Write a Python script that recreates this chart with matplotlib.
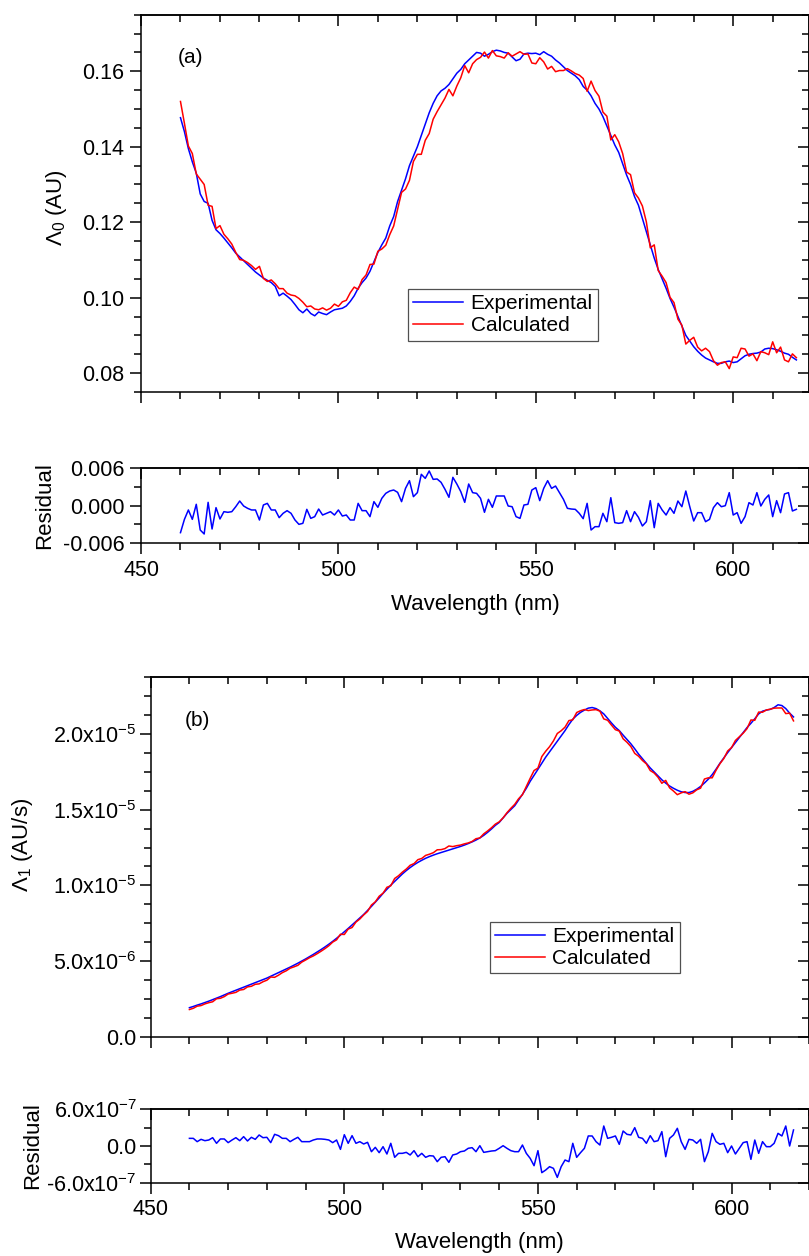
import numpy as np
import matplotlib
matplotlib.use("Agg")
import matplotlib.pyplot as plt
from matplotlib.ticker import MultipleLocator, FixedLocator, NullFormatter, FuncFormatter

plt.rcParams['font.family'] = ['Liberation Sans', 'DejaVu Sans']
plt.rcParams['mathtext.fontset'] = 'custom'
plt.rcParams['mathtext.rm'] = 'Liberation Sans'
plt.rcParams['mathtext.it'] = 'Liberation Sans:italic'
plt.rcParams['axes.unicode_minus'] = False

# wavelength grid, 1 nm steps
wl = np.arange(460, 617)

# (a) zeroth-order spectrum, AU
lam0_exp = [
    0.1477, 0.1440, 0.1395, 0.1360, 0.1330, 0.1275, 0.1255, 0.1250, 0.1205, 0.1180,
    0.1170, 0.1158, 0.1145, 0.1132, 0.1118, 0.1108, 0.1098, 0.1088, 0.1078, 0.1068,
    0.1060, 0.1052, 0.1046, 0.1040, 0.1030, 0.1005, 0.1012, 0.1004, 0.0995, 0.0982,
    0.0968, 0.0960, 0.0970, 0.0958, 0.0952, 0.0962, 0.0958, 0.0955, 0.0962, 0.0968,
    0.0970, 0.0972, 0.0978, 0.0990, 0.1005, 0.1025, 0.1040, 0.1052, 0.1070, 0.1095,
    0.1120, 0.1140, 0.1158, 0.1190, 0.1215, 0.1255, 0.1285, 0.1315, 0.1350, 0.1375,
    0.1400, 0.1430, 0.1460, 0.1490, 0.1515, 0.1535, 0.1548, 0.1555, 0.1565, 0.1580,
    0.1595, 0.1605, 0.1620, 0.1630, 0.1640, 0.1650, 0.1648, 0.1640, 0.1645, 0.1652,
    0.1656, 0.1654, 0.1650, 0.1648, 0.1638, 0.1628, 0.1632, 0.1646, 0.1648, 0.1647,
    0.1648, 0.1644, 0.1652, 0.1645, 0.1640, 0.1630, 0.1622, 0.1612, 0.1602, 0.1595,
    0.1588, 0.1578, 0.1560, 0.1550, 0.1535, 0.1515, 0.1500, 0.1480, 0.1455, 0.1430,
    0.1405, 0.1385, 0.1355, 0.1325, 0.1300, 0.1268, 0.1245, 0.1210, 0.1175, 0.1140,
    0.1105, 0.1075, 0.1050, 0.1025, 0.0998, 0.0975, 0.0950, 0.0925, 0.0900, 0.0885,
    0.0870, 0.0858, 0.0848, 0.0840, 0.0835, 0.0830, 0.0826, 0.0826, 0.0830, 0.0832,
    0.0828, 0.0830, 0.0838, 0.0846, 0.0850, 0.0852, 0.0853, 0.0856, 0.0864, 0.0866,
    0.0865, 0.0862, 0.0858, 0.0853, 0.0850, 0.0842, 0.0835,
]
lam0_calc = [
    0.1520, 0.1462, 0.1402, 0.1382, 0.1328, 0.1314, 0.1300, 0.1245, 0.1242, 0.1183,
    0.1191, 0.1168, 0.1156, 0.1142, 0.1120, 0.1101, 0.1099, 0.1093, 0.1085, 0.1075,
    0.1083, 0.1051, 0.1043, 0.1047, 0.1037, 0.1024, 0.1024, 0.1012, 0.1007, 0.1005,
    0.0998, 0.0988, 0.0976, 0.0978, 0.0970, 0.0968, 0.0973, 0.0967, 0.0972, 0.0983,
    0.0977, 0.0989, 0.0993, 0.1013, 0.1028, 0.1022, 0.1048, 0.1060, 0.1088, 0.1089,
    0.1123, 0.1129, 0.1139, 0.1167, 0.1190, 0.1234, 0.1279, 0.1288, 0.1311, 0.1361,
    0.1380, 0.1380, 0.1417, 0.1435, 0.1473, 0.1493, 0.1511, 0.1529, 0.1552, 0.1535,
    0.1561, 0.1583, 0.1615, 0.1596, 0.1620, 0.1631, 0.1637, 0.1651, 0.1635, 0.1655,
    0.1641, 0.1639, 0.1635, 0.1649, 0.1640, 0.1646, 0.1652, 0.1645, 0.1646, 0.1622,
    0.1620, 0.1636, 0.1625, 0.1606, 0.1613, 0.1599, 0.1602, 0.1602, 0.1607, 0.1601,
    0.1594, 0.1590, 0.1581, 0.1547, 0.1574, 0.1549, 0.1534, 0.1492, 0.1481, 0.1418,
    0.1432, 0.1413, 0.1382, 0.1333, 0.1326, 0.1278, 0.1264, 0.1243, 0.1201, 0.1132,
    0.1140, 0.1072, 0.1057, 0.1040, 0.1001, 0.0987, 0.0943, 0.0927, 0.0877, 0.0887,
    0.0895, 0.0869, 0.0859, 0.0866, 0.0857, 0.0833, 0.0821, 0.0828, 0.0830, 0.0812,
    0.0843, 0.0841, 0.0866, 0.0864, 0.0845, 0.0851, 0.0833, 0.0857, 0.0854, 0.0849,
    0.0883, 0.0854, 0.0869, 0.0835, 0.0830, 0.0851, 0.0841,
]
resid0 = [
    -0.00431, -0.00220, -0.00071, -0.00220, 0.00019, -0.00389, -0.00452, 0.00050, -0.00373, -0.00034,
    -0.00214, -0.00098, -0.00108, -0.00098, -0.00019, 0.00071, -0.00008, -0.00045, -0.00071, -0.00071,
    -0.00230, 0.00008, 0.00034, -0.00071, -0.00071, -0.00193, -0.00124, -0.00082, -0.00124, -0.00230,
    -0.00299, -0.00283, -0.00061, -0.00204, -0.00177, -0.00056, -0.00151, -0.00124, -0.00098, -0.00151,
    -0.00071, -0.00167, -0.00151, -0.00230, -0.00230, 0.00034, -0.00082, -0.00082, -0.00177, 0.00061,
    -0.00029, 0.00114, 0.00193, 0.00230, 0.00246, 0.00209, 0.00061, 0.00272, 0.00394, 0.00140,
    0.00204, 0.00495, 0.00431, 0.00548, 0.00415, 0.00421, 0.00368, 0.00257, 0.00130, 0.00447,
    0.00341, 0.00220, 0.00050, 0.00341, 0.00204, 0.00193, 0.00114, -0.00108, 0.00098, -0.00029,
    0.00151, 0.00151, 0.00151, -0.00008, -0.00019, -0.00177, -0.00204, 0.00008, 0.00019, 0.00246,
    0.00283, 0.00077, 0.00272, 0.00394, 0.00272, 0.00309, 0.00204, 0.00098, -0.00045, -0.00056,
    -0.00061, -0.00124, -0.00209, 0.00034, -0.00389, -0.00336, -0.00336, -0.00124, -0.00257, 0.00124,
    -0.00272, -0.00283, -0.00272, -0.00082, -0.00257, -0.00098, -0.00188, -0.00325, -0.00257, 0.00077,
    -0.00352, 0.00034, -0.00071, -0.00151, -0.00034, -0.00124, 0.00071, -0.00019, 0.00230, -0.00019,
    -0.00246, -0.00114, -0.00114, -0.00257, -0.00220, -0.00034, 0.00045, -0.00019, -0.00003, 0.00204,
    -0.00151, -0.00114, -0.00283, -0.00177, 0.00045, 0.00008, 0.00204, -0.00008, 0.00098, 0.00167,
    -0.00177, 0.00077, -0.00114, 0.00183, 0.00204, -0.00087, -0.00061,
]

# (b) first-order spectrum, in units of 1e-6 AU/s
lam1_exp = [
    1.95, 2.03, 2.12, 2.20, 2.29, 2.38, 2.48, 2.58, 2.68, 2.79,
    2.90, 3.00, 3.10, 3.20, 3.30, 3.40, 3.50, 3.60, 3.70, 3.80,
    3.90, 4.02, 4.14, 4.26, 4.38, 4.50, 4.62, 4.75, 4.88, 5.02,
    5.16, 5.31, 5.46, 5.62, 5.78, 5.95, 6.13, 6.32, 6.52, 6.73,
    6.95, 7.17, 7.40, 7.63, 7.86, 8.09, 8.35, 8.62, 8.90, 9.18,
    9.48, 9.75, 10.02, 10.27, 10.52, 10.76, 10.98, 11.18, 11.36, 11.52,
    11.66, 11.79, 11.90, 12.00, 12.09, 12.17, 12.25, 12.33, 12.41, 12.49,
    12.57, 12.66, 12.76, 12.87, 12.99, 13.13, 13.30, 13.50, 13.72, 13.96,
    14.15, 14.45, 14.75, 15.00, 15.25, 15.62, 16.00, 16.40, 16.86, 17.25,
    17.65, 18.05, 18.45, 18.80, 19.15, 19.50, 19.85, 20.20, 20.60, 20.95,
    21.20, 21.40, 21.55, 21.68, 21.72, 21.65, 21.50, 21.30, 21.00, 20.70,
    20.42, 20.20, 19.90, 19.62, 19.33, 19.00, 18.65, 18.35, 18.05, 17.74,
    17.48, 17.22, 16.96, 16.74, 16.55, 16.40, 16.27, 16.17, 16.12, 16.12,
    16.20, 16.34, 16.52, 16.75, 17.00, 17.30, 17.66, 18.05, 18.40, 18.75,
    19.08, 19.42, 19.75, 20.08, 20.40, 20.68, 20.98, 21.30, 21.48, 21.55,
    21.60, 21.72, 21.90, 21.85, 21.65, 21.35, 21.10,
]
lam1_calc = [
    1.83, 1.91, 2.05, 2.09, 2.20, 2.28, 2.34, 2.54, 2.57, 2.68,
    2.85, 2.90, 2.96, 3.11, 3.15, 3.32, 3.36, 3.49, 3.52, 3.66,
    3.76, 3.97, 3.95, 4.09, 4.26, 4.38, 4.55, 4.64, 4.74, 4.95,
    5.09, 5.24, 5.36, 5.51, 5.67, 5.84, 6.03, 6.27, 6.42, 6.79,
    6.77, 7.13, 7.23, 7.59, 7.79, 8.06, 8.29, 8.71, 8.92, 9.29,
    9.49, 9.88, 9.98, 10.46, 10.64, 10.88, 11.08, 11.33, 11.44, 11.70,
    11.78, 11.98, 12.06, 12.16, 12.35, 12.36, 12.43, 12.60, 12.56, 12.62,
    12.66, 12.74, 12.80, 12.90, 13.08, 13.13, 13.40, 13.59, 13.80, 14.04,
    14.19, 14.45, 14.79, 15.08, 15.34, 15.71, 15.98, 16.52, 17.06, 17.57,
    17.73, 18.49, 18.84, 19.14, 19.52, 20.01, 20.19, 20.43, 20.86, 20.91,
    21.39, 21.51, 21.59, 21.52, 21.56, 21.58, 21.48, 20.97, 20.88, 20.56,
    20.26, 20.17, 19.66, 19.43, 19.15, 18.70, 18.51, 18.23, 18.01, 17.57,
    17.41, 17.13, 16.73, 16.92, 16.43, 16.22, 15.98, 16.10, 16.18, 16.01,
    16.10, 16.30, 16.41, 17.01, 17.09, 17.09, 17.59, 18.02, 18.36, 18.86,
    19.08, 19.55, 19.79, 20.03, 20.33, 20.90, 20.88, 21.42, 21.41, 21.56,
    21.61, 21.68, 21.69, 21.69, 21.32, 21.35, 20.84,
]
# residual of (b), in units of 1e-7 AU/s
resid1 = [
    1.25, 1.25, 0.71, 1.09, 0.87, 0.98, 1.36, 0.44, 1.15, 1.15,
    0.55, 0.98, 1.36, 0.87, 1.53, 0.82, 1.42, 1.09, 1.80, 1.36,
    1.42, 0.55, 1.91, 1.69, 1.25, 1.25, 0.71, 1.09, 1.42, 0.71,
    0.71, 0.71, 0.98, 1.15, 1.15, 1.09, 0.98, 0.55, 0.98, -0.55,
    1.85, 0.44, 1.69, 0.44, 0.71, 0.33, 0.60, -0.93, -0.22, -1.09,
    -0.11, -1.31, 0.44, -1.85, -1.20, -1.20, -1.04, -1.47, -0.76, -1.75,
    -1.20, -1.85, -1.58, -1.64, -2.56, -1.85, -1.75, -2.67, -1.47, -1.31,
    -0.93, -0.82, -0.38, -0.27, -0.93, 0.05, -1.04, -0.93, -0.82, -0.76,
    -0.38, 0.05, -0.38, -0.76, -0.93, -0.93, 0.16, -1.20, -2.02, -3.22,
    -0.76, -4.36, -3.93, -3.38, -3.65, -5.13, -3.38, -2.29, -2.56, 0.44,
    -1.85, -1.09, -0.38, 1.64, 1.64, 0.71, 0.16, 3.27, 1.25, 1.42,
    1.64, 0.27, 2.45, 1.91, 1.80, 3.00, 1.42, 1.25, 0.44, 1.69,
    0.71, 0.87, 2.35, -1.75, 1.25, 1.80, 2.89, 0.71, -0.55, 1.09,
    0.98, 0.44, 1.09, -2.56, -0.93, 2.07, 0.71, 0.27, 0.44, -1.09,
    0.00, -1.31, -0.38, 0.55, 0.71, -2.18, 0.98, -1.20, 0.71, -0.11,
    -0.11, 0.44, 2.07, 1.64, 3.27, 0.00, 2.62,
]

BLUE = '#0000ff'
RED = '#ff0000'
LW = 1.1
FS_TICK = 15.5
FS_LABEL = 16


def sci_label(v, pos):
    if abs(v) < 1e-15:
        return '0.0'
    e = int(np.floor(np.log10(abs(v)) + 1e-9))
    return r'%.1fx10$^{%d}$' % (v / 10.0 ** e, e)


def style_axes(ax, xlim, ymajor, yminor, show_xlabels):
    ax.set_xlim(*xlim)
    ax.xaxis.set_major_locator(MultipleLocator(50))
    ax.xaxis.set_minor_locator(MultipleLocator(10))
    ax.yaxis.set_major_locator(FixedLocator(ymajor))
    ax.yaxis.set_minor_locator(FixedLocator(yminor))
    for sp in ax.spines.values():
        sp.set_linewidth(1.1)
    ax.tick_params(which='both', direction='out', top=False, right=False,
                   width=1.1, labelsize=FS_TICK, pad=4)
    ax.tick_params(which='major', length=8)
    ax.tick_params(which='minor', length=5)
    if not show_xlabels:
        ax.tick_params(axis='x', labelbottom=False)
    # inward ticks along the top and right edges
    top = ax.secondary_xaxis('top')
    top.xaxis.set_major_locator(MultipleLocator(50))
    top.xaxis.set_minor_locator(MultipleLocator(10))
    top.xaxis.set_major_formatter(NullFormatter())
    top.tick_params(which='both', direction='in', width=1.1)
    top.tick_params(which='major', length=8)
    top.tick_params(which='minor', length=5)
    right = ax.secondary_yaxis('right')
    right.yaxis.set_major_locator(FixedLocator(ymajor))
    right.yaxis.set_minor_locator(FixedLocator(yminor))
    right.yaxis.set_major_formatter(NullFormatter())
    right.tick_params(which='both', direction='in', width=1.1)
    right.tick_params(which='major', length=8)
    right.tick_params(which='minor', length=5)
    for sec in (top, right):
        for sp in sec.spines.values():
            sp.set_linewidth(1.1)


W, H = 809, 1256
fig = plt.figure(figsize=(W / 100, H / 100), dpi=100)


def px_axes(left, top, right, bottom):
    return fig.add_axes([left / W, 1 - bottom / H, (right - left) / W, (bottom - top) / H])


lam1_exp_v = np.array(lam1_exp) * 1e-6
lam1_calc_v = np.array(lam1_calc) * 1e-6
resid1_v = np.array(resid1) * 1e-7

# ---- panel (a) ----
ax_a = px_axes(141, 14.7, 809, 392)
ax_a.plot(wl, lam0_exp, color=BLUE, lw=LW, label='Experimental')
ax_a.plot(wl, lam0_calc, color=RED, lw=LW, label='Calculated')
ax_a.set_ylim(0.075, 0.175)
style_axes(ax_a, (450, 619.2), np.arange(0.08, 0.171, 0.02),
           np.arange(0.075, 0.1751, 0.005), False)
ax_a.yaxis.set_major_formatter(FuncFormatter(lambda v, p: '%.2f' % v))
ax_a.set_ylabel(r'$\mathit{Λ}_0$ (AU)', fontsize=FS_LABEL, va='center')
ax_a.yaxis.set_label_coords(-0.126, 0.49)
ax_a.text(459.4, 0.1637, '(a)', fontsize=15, va='center', ha='left')
ax_a.legend(loc='upper left', bbox_to_anchor=(0.400, 0.273), fontsize=15,
            frameon=True, fancybox=False, edgecolor='#505050', framealpha=1,
            borderaxespad=0, borderpad=0.25, handlelength=2.4,
            handletextpad=0.35, labelspacing=0.15).get_frame().set_linewidth(0.9)

ax_ra = px_axes(141, 467.7, 809, 543.3)
ax_ra.plot(wl, resid0, color=BLUE, lw=LW)
ax_ra.set_ylim(-0.006, 0.006)
style_axes(ax_ra, (450, 619.2), [-0.006, 0.0, 0.006], [-0.003, 0.003], True)
ax_ra.yaxis.set_major_formatter(FuncFormatter(lambda v, p: '%.3f' % v if abs(v) > 1e-9 else '0.000'))
ax_ra.set_ylabel('Residual', fontsize=FS_LABEL, va='center')
ax_ra.yaxis.set_label_coords(-0.145, 0.5)
ax_ra.set_xlabel('Wavelength (nm)', fontsize=FS_LABEL, va='center')
ax_ra.xaxis.set_label_coords(0.5, -0.81)

# ---- panel (b) ----
ax_b = px_axes(150.7, 676.7, 809, 1037.3)
ax_b.plot(wl, lam1_exp_v, color=BLUE, lw=LW, label='Experimental')
ax_b.plot(wl, lam1_calc_v, color=RED, lw=LW, label='Calculated')
ax_b.set_ylim(0, 2.375e-5)
style_axes(ax_b, (450, 620), [0, 5e-6, 1e-5, 1.5e-5, 2e-5],
           np.arange(0, 20) * 1.25e-6, False)
ax_b.tick_params(axis='y', pad=2)
ax_b.yaxis.set_major_formatter(FuncFormatter(sci_label))
ax_b.set_ylabel(r'$\mathit{Λ}_1$ (AU/s)', fontsize=FS_LABEL, va='center')
ax_b.yaxis.set_label_coords(-0.194, 0.533)
ax_b.text(458.9, 2.086e-5, '(b)', fontsize=15, va='center', ha='left')
ax_b.legend(loc='upper left', bbox_to_anchor=(0.515, 0.3206), fontsize=15,
            frameon=True, fancybox=False, edgecolor='#505050', framealpha=1,
            borderaxespad=0, borderpad=0.25, handlelength=2.4,
            handletextpad=0.35, labelspacing=0.15).get_frame().set_linewidth(0.9)

ax_rb = px_axes(150.7, 1109.3, 809, 1182.7)
ax_rb.plot(wl, resid1_v, color=BLUE, lw=LW)
ax_rb.set_ylim(-6e-7, 6e-7)
style_axes(ax_rb, (450, 620), [-6e-7, 0.0, 6e-7], [-3e-7, 3e-7], True)
ax_rb.tick_params(axis='y', pad=2)
ax_rb.yaxis.set_major_formatter(FuncFormatter(sci_label))
ax_rb.set_ylabel('Residual', fontsize=FS_LABEL, va='center')
ax_rb.yaxis.set_label_coords(-0.179, 0.5)
ax_rb.set_xlabel('Wavelength (nm)', fontsize=FS_LABEL, va='center')
ax_rb.xaxis.set_label_coords(0.5, -0.81)

fig.savefig('out.png', dpi=100)
